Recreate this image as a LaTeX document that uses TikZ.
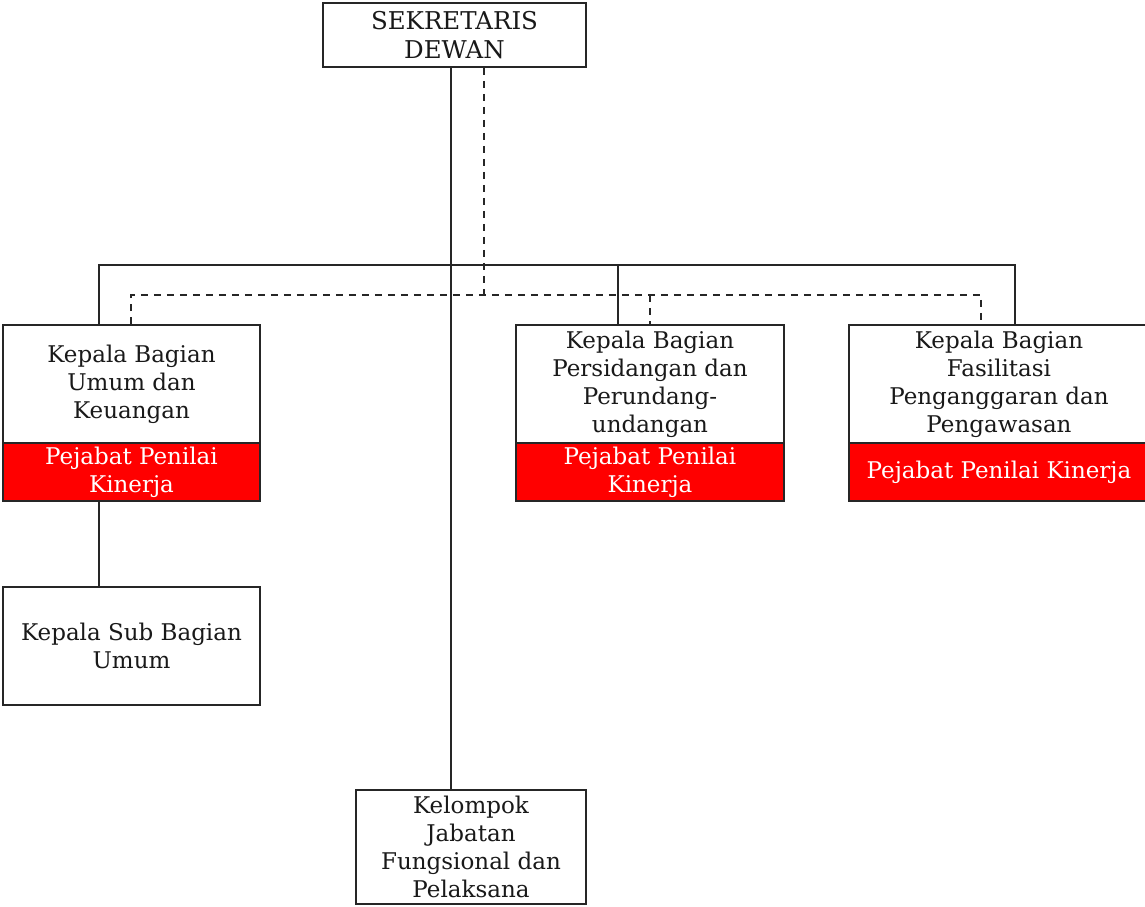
\documentclass[tikz,border=0pt]{standalone}
\usepackage{fontspec}
\setmainfont{DejaVu Serif}
\begin{document}
\begin{tikzpicture}[x=1pt,y=-1pt,
  box/.style={draw=black!85, line width=1.8pt, fill=white, inner sep=0pt, align=center,
    font=\fontsize{23}{28}\selectfont, text=black!90},
  redbox/.style={box, fill=red, text=white},
  link/.style={draw=black!85, line width=1.8pt},
  dlink/.style={draw=black!85, line width=1.4pt, dash pattern=on 7pt off 6pt}]
\useasboundingbox (0,0) rectangle (1145,906);

% column and level positions of the connectors
\coordinate (spineX) at (451,0);
\coordinate (dashX) at (484,0);
\coordinate (busY) at (0,265);
\coordinate (dbusY) at (0,295);
\coordinate (luX) at (99,0);
\coordinate (luD) at (131,0);
\coordinate (psX) at (618,0);
\coordinate (psD) at (650,0);
\coordinate (fpX) at (1015,0);
\coordinate (fpD) at (981,0);

% boxes
\node[box, minimum width=263, minimum height=64, font=\fontsize{24.5}{29}\selectfont] (sek) at (454.5,35) {SEKRETARIS\\DEWAN};

\node[box, minimum width=257, minimum height=118] (lu) at (131.5,384) {Kepala Bagian\\Umum dan\\Keuangan};
\node[redbox, minimum width=257, minimum height=58] (lur) at (131.5,472) {Pejabat Penilai\\Kinerja};

\node[box, minimum width=268, minimum height=118] (ps) at (650,384) {Kepala Bagian\\Persidangan dan\\Perundang-\\undangan};
\node[redbox, minimum width=268, minimum height=58] (psr) at (650,472) {Pejabat Penilai\\Kinerja};

\node[box, minimum width=300, minimum height=118] (fp) at (999,384) {Kepala Bagian\\Fasilitasi\\Penganggaran dan\\Pengawasan};
\node[redbox, minimum width=300, minimum height=58] (fpr) at (999,472) {Pejabat Penilai Kinerja};

\node[box, minimum width=257, minimum height=118] (sub) at (131.5,646) {Kepala Sub Bagian\\Umum};

\node[box, minimum width=230, minimum height=114] (kel) at (471,847) {Kelompok\\Jabatan\\Fungsional dan\\Pelaksana};

% solid lines of command
\draw[link] (sek.south -| spineX) -- (kel.north -| spineX);
\draw[link] (lu.north -| luX) -- (busY -| luX) -- (busY -| fpX) -- (fp.north -| fpX);
\draw[link] (busY -| psX) -- (ps.north -| psX);
\draw[link] (lur.south -| luX) -- (sub.north -| luX);

% dashed lines of appraisal
\draw[dlink] (sek.south -| dashX) -- (dbusY -| dashX);
\draw[dlink] (lu.north -| luD) -- (dbusY -| luD) -- (dbusY -| fpD) -- (fp.north -| fpD);
\draw[dlink] (dbusY -| psD) -- (ps.north -| psD);
\end{tikzpicture}
\end{document}
